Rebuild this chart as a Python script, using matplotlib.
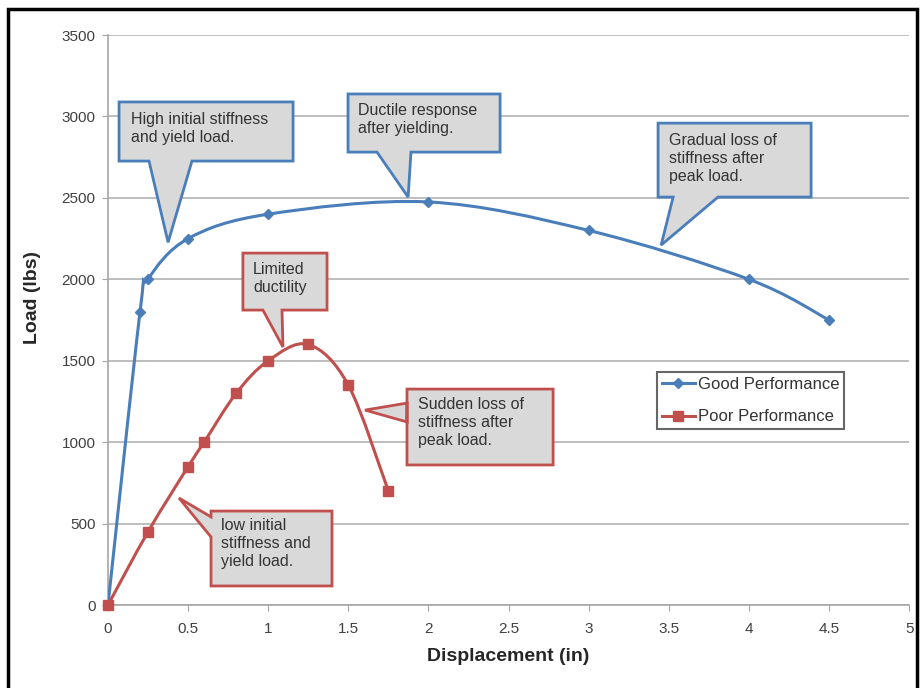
import matplotlib
matplotlib.use("Agg")
import matplotlib.pyplot as plt
from matplotlib.path import Path
from matplotlib.patches import PathPatch, Polygon, Rectangle
from matplotlib.lines import Line2D

plt.rcParams['font.family'] = ['Liberation Sans', 'DejaVu Sans']

# data
good_x = [0, 0.2, 0.25, 0.5, 1, 2, 3, 4, 4.5]
good_y = [0, 1800, 2000, 2250, 2400, 2475, 2300, 2000, 1750]
poor_x = [0, 0.25, 0.5, 0.6, 0.8, 1, 1.25, 1.5, 1.75]
poor_y = [0, 450, 850, 1000, 1300, 1500, 1600, 1350, 700]

x_ticks = [0, 0.5, 1, 1.5, 2, 2.5, 3, 3.5, 4, 4.5, 5]
x_labels = ['0', '0.5', '1', '1.5', '2', '2.5', '3', '3.5', '4', '4.5', '5']
y_ticks = [0, 500, 1000, 1500, 2000, 2500, 3000, 3500]

BLUE = '#4a7ebb'
RED = '#c0504d'
FILL = '#d9d9d9'


def smooth_path(xs, ys, t=1/6):
    # excel-style smoothed line as cubic bezier segments
    pts = list(zip(xs, ys))
    n = len(pts)
    verts = [pts[0]]
    codes = [Path.MOVETO]
    for i in range(n - 1):
        p0 = pts[i - 1] if i > 0 else pts[i]
        p1 = pts[i]
        p2 = pts[i + 1]
        p3 = pts[i + 2] if i + 2 < n else pts[i + 1]
        c1 = (p1[0] + (p2[0] - p0[0]) * t, p1[1] + (p2[1] - p0[1]) * t)
        c2 = (p2[0] - (p3[0] - p1[0]) * t, p2[1] - (p3[1] - p1[1]) * t)
        verts += [c1, c2, p2]
        codes += [Path.CURVE4] * 3
    return Path(verts, codes)


fig = plt.figure(figsize=(9.23, 6.88), dpi=100)
ax = fig.add_axes([0.117, 0.1206, 0.868, 0.8285])

ax.set_xlim(0, 5)
ax.set_ylim(0, 3500)
ax.set_xticks(x_ticks)
ax.set_xticklabels(x_labels)
ax.set_yticks(y_ticks)
ax.grid(axis='y', color='#b3b3b3', linewidth=1.2)
ax.set_axisbelow(True)
for side in ['top', 'right']:
    ax.spines[side].set_visible(False)
for side in ['left', 'bottom']:
    ax.spines[side].set_color('#a6a6a6')
    ax.spines[side].set_linewidth(1.2)
ax.tick_params(colors='#a6a6a6', labelcolor='#404040', labelsize=11, length=4)
ax.tick_params(axis='x', pad=8)
ax.tick_params(axis='y', pad=5)

ax.add_patch(PathPatch(smooth_path(good_x, good_y), fill=False, edgecolor=BLUE, lw=2.2, zorder=3))
ax.add_patch(PathPatch(smooth_path(poor_x, poor_y), fill=False, edgecolor=RED, lw=2.2, zorder=3))
ax.plot(good_x, good_y, linestyle='none', marker='D', color=BLUE, markersize=5, zorder=4, clip_on=False)
ax.plot(poor_x, poor_y, linestyle='none', marker='s', color=RED, markersize=7.5, zorder=4, clip_on=False)

ax.set_xlabel('Displacement (in)', fontsize=14, fontweight='bold', color='#262626', labelpad=9)
ax.set_ylabel('Load (lbs)', fontsize=14, fontweight='bold', color='#262626')
ax.yaxis.set_label_coords(-0.083, 0.54)

# callouts: box corners, tail base points, tip, text anchor
callouts = [
    dict(box=(0.069, 2726, 1.155, 3089), base=[(0.524, 2726), (0.256, 2726)], tip=(0.375, 2227),
         side='bottom', text='High initial stiffness\nand yield load.', at=(0.144, 3030), color=BLUE),
    dict(box=(1.498, 2781, 2.447, 3138), base=[(1.891, 2781), (1.679, 2781)], tip=(1.873, 2505),
         side='bottom', text='Ductile response\nafter yielding.', at=(1.561, 3080), color=BLUE),
    dict(box=(3.433, 2505, 4.388, 2959), base=[(3.807, 2505), (3.527, 2505)], tip=(3.452, 2210),
         side='bottom', text='Gradual loss of\nstiffness after\npeak load.', at=(3.502, 2896), color=BLUE),
    dict(box=(0.842, 1811, 1.367, 2161), base=[(1.086, 1811), (0.967, 1811)], tip=(1.092, 1584),
         side='bottom', text='Limited\nductility', at=(0.905, 2104), color=RED),
    dict(box=(1.866, 860, 2.778, 1326), base=[(1.866, 1240), (1.866, 1124)], tip=(1.604, 1197),
         side='left', text='Sudden loss of\nstiffness after\npeak load.', at=(1.935, 1275), color=RED),
    dict(box=(0.643, 117, 1.398, 577), base=[(0.643, 418), (0.643, 541)], tip=(0.443, 657),
         side='left', text='low initial\nstiffness and\nyield load.', at=(0.705, 532), color=RED),
]

for c in callouts:
    x0, y0, x1, y1 = c['box']
    if c['side'] == 'bottom':
        # go round clockwise from top-left, tail inserted on bottom edge
        pts = [(x0, y1), (x1, y1), (x1, y0), c['base'][0], c['tip'], c['base'][1], (x0, y0)]
    else:
        pts = [(x0, y1), (x1, y1), (x1, y0), (x0, y0), c['base'][0], c['tip'], c['base'][1]]
    ax.add_patch(Polygon(pts, closed=True, facecolor=FILL, edgecolor=c['color'], lw=2,
                         joinstyle='miter', zorder=5, clip_on=False))
    ax.text(c['at'][0], c['at'][1], c['text'], fontsize=11.5, color='#333333', ha='left', va='top',
            linespacing=1.25, zorder=6)

handles = [Line2D([], [], color=BLUE, marker='D', markersize=5, lw=2.2),
           Line2D([], [], color=RED, marker='s', markersize=7, lw=2.2)]
leg = ax.legend(handles, ['Good Performance', 'Poor Performance'], loc='upper left',
                bbox_to_anchor=(0.685, 0.409), fontsize=12, frameon=True, fancybox=False,
                edgecolor='#404040', handlelength=2.0, handletextpad=0.15, borderpad=0.3,
                labelspacing=1.05, borderaxespad=0)
leg.get_frame().set_linewidth(1.5)
for t in leg.get_texts():
    t.set_color('#333333')

# outer frame around the picture
fig.patches.append(Rectangle((0.0087, -0.02), 0.9848, 1.007, transform=fig.transFigure,
                             fill=False, edgecolor='black', lw=2.5))

fig.savefig('out.png', dpi=100)
